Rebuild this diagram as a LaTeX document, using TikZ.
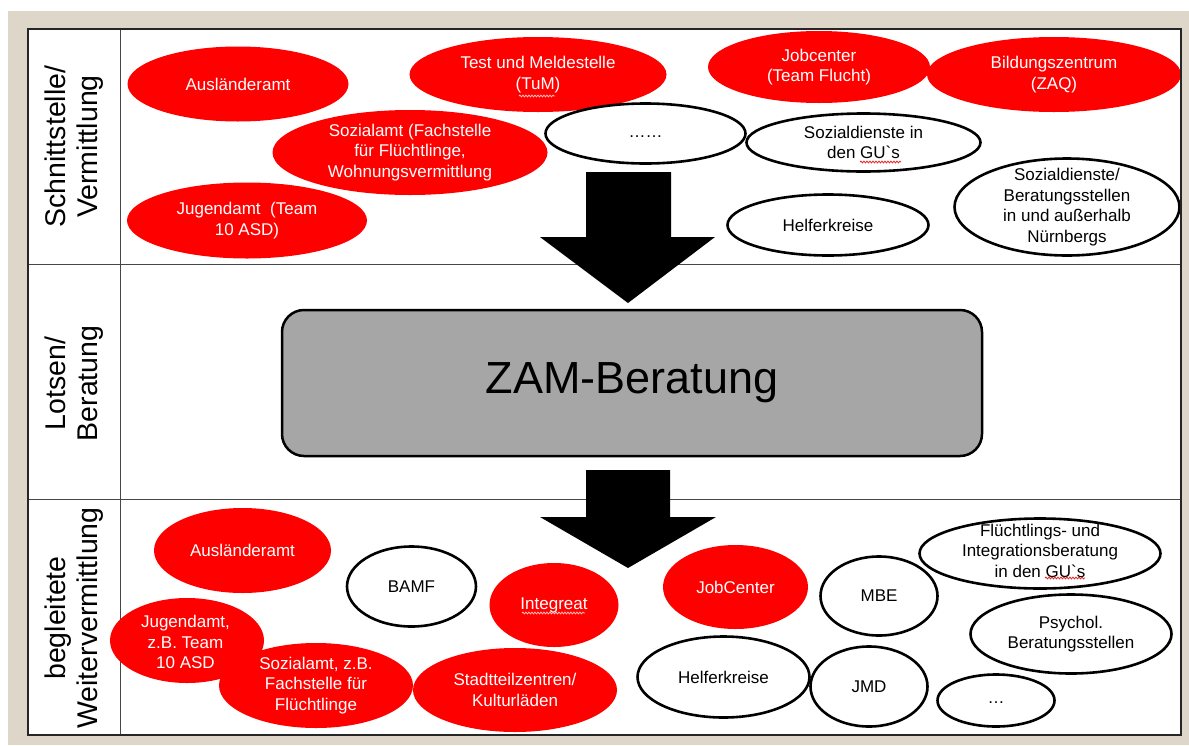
\documentclass[tikz,border=0pt]{standalone}
\usepackage{fontspec}
\setmainfont{Liberation Sans}[Ligatures=TeXOff]
\usetikzlibrary{shapes.geometric,decorations.pathmorphing}
\definecolor{beige}{RGB}{222,214,201}
\definecolor{zamgrey}{RGB}{166,166,166}
\definecolor{gridline}{RGB}{70,70,70}
\definecolor{myred}{RGB}{255,0,0}
\definecolor{squigred}{RGB}{225,40,40}
\definecolor{squiglight}{RGB}{255,190,190}
\begin{document}
\begin{tikzpicture}[x=1pt,y=-1pt,
  redell/.style={ellipse,fill=myred,inner sep=0pt},
  whiteell/.style={ellipse,fill=white,draw=black,line width=2.6pt,inner sep=0pt},
  wtxt/.style={text=white,font=\fontsize{17}{20.5}\selectfont,align=center,inner sep=0pt},
  btxt/.style={text=black,font=\fontsize{17}{20.5}\selectfont,align=center,inner sep=0pt},
  side/.style={rotate=90,font=\fontsize{28.5}{32}\selectfont,align=center,inner sep=0pt},
  zambox/.style={rectangle,rounded corners=22pt,fill=zamgrey,draw=black,line width=2.5pt,
    font=\fontsize{45}{50}\selectfont,inner sep=0pt},
  bigarrow/.style={fill=black},
  grid/.style={draw=gridline,line width=1pt},
  frame/.style={draw=black!85,line width=1.6pt},
  squig/.style={decorate,decoration={snake,amplitude=0.9pt,segment length=3pt},line width=0.8pt}
]
\useasboundingbox (0,0) rectangle (1189,745);
\fill[white] (0,0) rectangle (1189,745);
\fill[beige] (8,11) rectangle (1189,745);
\fill[white] (28,29) rectangle (1181,735);
% grid
\draw[grid] (120,29) -- (120,735);
\draw[grid] (28,264) -- (1181,264);
\draw[grid] (28,499) -- (1181,499);
% side labels
\node[side] (l1) at (74,146.5) {Schnittstelle/\\Vermittlung};
\node[side] (l2) at (74,383.5) {Lotsen/\\Beratung};
\node[side] (l3) at (74,618) {begleitete\\Weitervermittlung};
% top row red
\node[redell,minimum width=221pt,minimum height=75pt] (a1) at (238,84) {};
\node[redell,minimum width=257pt,minimum height=75pt] (a2) at (538,74.5) {};
\node[redell,minimum width=275pt,minimum height=85pt] (a3) at (410,152.5) {};
\node[redell,minimum width=240pt,minimum height=76pt] (a4) at (247,220.5) {};
\node[redell,minimum width=222pt,minimum height=72pt] (a5) at (819,67) {};
\node[redell,minimum width=254pt,minimum height=75pt] (a6) at (1054,74.5) {};
% top row white
\node[whiteell,minimum width=200pt,minimum height=60pt] (b1) at (645.5,133.5) {};
\node[whiteell,minimum width=234pt,minimum height=58pt] (b2) at (863.5,142.5) {};
\node[whiteell,minimum width=225pt,minimum height=97pt] (b3) at (1067,207) {};
\node[whiteell,minimum width=201pt,minimum height=61pt] (b4) at (828,225) {};
% bottom row red
\node[redell,minimum width=177pt,minimum height=85pt] (c1) at (242.5,550.5) {};
\node[redell,minimum width=129pt,minimum height=84pt] (c2) at (554,605) {};
\node[redell,minimum width=154pt,minimum height=85pt] (c3) at (187,640.5) {};
\node[redell,minimum width=194pt,minimum height=85pt] (c4) at (316,685.5) {};
\node[redell,minimum width=204pt,minimum height=84pt] (c5) at (515,690) {};
\node[redell,minimum width=145pt,minimum height=84pt] (c6) at (735.5,587) {};
% bottom row white
\node[whiteell,minimum width=129pt,minimum height=80pt] (d1) at (411.5,586.5) {};
\node[whiteell,minimum width=117pt,minimum height=79pt] (d2) at (879,596) {};
\node[whiteell,minimum width=241pt,minimum height=70pt] (d3) at (1040,553.5) {};
\node[whiteell,minimum width=201pt,minimum height=79pt] (d4) at (1071,634) {};
\node[whiteell,minimum width=172pt,minimum height=81pt] (d5) at (723.5,677) {};
\node[whiteell,minimum width=117pt,minimum height=80pt] (d6) at (869,686.5) {};
\node[whiteell,minimum width=117pt,minimum height=52pt] (d7) at (996,700.5) {};
% arrows
\fill[bigarrow] (586,172) -- (671,172) -- (671,237) -- (715,237) -- (628,303)
  -- (540,237) -- (586,237) -- cycle;
\fill[bigarrow] (586,470) -- (670,470) -- (670,517) -- (716,517) -- (628,568)
  -- (540,517) -- (586,517) -- cycle;
% ZAM box
\node[zambox,minimum width=700pt,minimum height=146pt] (zam) at (632,383) {ZAM-Beratung};
% texts
\node[wtxt] (ta1) at (a1) {Ausländeramt};
\node[wtxt] (ta2) at (a2) {Test und Meldestelle\\(TuM)};
\node[wtxt] (ta3) at (a3) {Sozialamt (Fachstelle\\für Flüchtlinge,\\Wohnungsvermittlung};
\node[wtxt] (ta4) at (a4) {Jugendamt\ \ (Team\\10 ASD)};
\node[wtxt] (ta5) at (a5) {Jobcenter\\(Team Flucht)};
\node[wtxt] (ta6) at (a6) {Bildungszentrum\\(ZAQ)};
\node[btxt] (tb1) at ([yshift=-3pt]b1.center) {……};
\node[btxt] (tb2) at (b2) {Sozialdienste in\\den GU`s};
\node[btxt] (tb3) at (b3) {Sozialdienste/\\Beratungsstellen\\in und außerhalb\\Nürnbergs};
\node[btxt] (tb4) at (b4) {Helferkreise};
\node[wtxt] (tc1) at (c1) {Ausländeramt};
\node[wtxt] (tc2) at (c2) {Integreat};
\node[wtxt] (tc3) at ([xshift=-1.5pt,yshift=-1.5pt]c3.center) {Jugendamt,\\z.B. Team\\10 ASD};
\node[wtxt] (tc4) at (c4) {Sozialamt, z.B.\\Fachstelle für\\Flüchtlinge};
\node[wtxt] (tc5) at (c5) {Stadtteilzentren/\\Kulturläden};
\node[wtxt] (tc6) at (c6) {JobCenter};
\node[btxt] (td1) at (d1) {BAMF};
\node[btxt] (td2) at (d2) {MBE};
\node[btxt] (td3) at ([yshift=3pt]d3.center) {Flüchtlings- und\\Integrationsberatung\\in den GU`s};
\node[btxt] (td4) at (d4) {Psychol.\\Beratungsstellen};
\node[btxt] (td5) at (d5) {Helferkreise};
\node[btxt] (td6) at (d6) {JMD};
\node[btxt] (td7) at ([yshift=-2pt]d7.center) {…};
% spell-check squiggles
\draw[squig,squigred] (860,162) -- (901,162);
\draw[squig,squigred] (1045,578) -- (1085,578);
\draw[squig,squiglight] (519,96) -- (555,96);
\draw[squig,squiglight] (522,613) -- (585,613);
% frame
\draw[frame] (28,29) rectangle (1181,735);
\end{tikzpicture}
\end{document}
